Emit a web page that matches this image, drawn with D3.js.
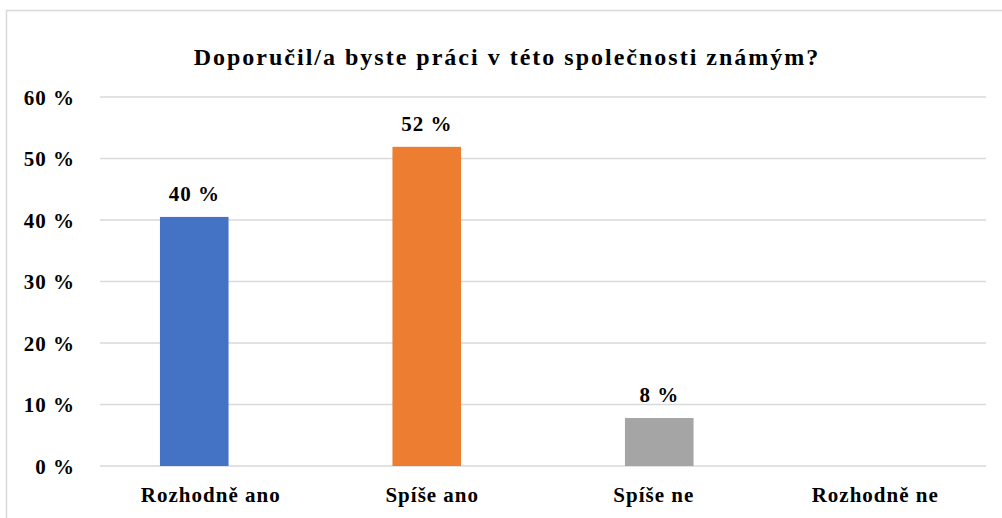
<!DOCTYPE html>
<html>
<head>
<meta charset="utf-8">
<script src="https://cdn.jsdelivr.net/npm/d3@7"></script>
<style>
  body { margin: 0; background: #fff; }
  text { font-family: "Liberation Serif", "Times New Roman", serif; font-weight: bold; fill: #000; }
</style>
</head>
<body>
<svg id="stage" width="1002" height="518"></svg>
<script>
var svg = d3.select("#stage");

// data
var title = "Doporučil/a byste práci v této společnosti známým?";
var categories = ["Rozhodně ano", "Spíše ano", "Spíše ne", "Rozhodně ne"];
var values = [40.5, 51.9, 7.8, 0];
var valueLabels = ["40 %", "52 %", "8 %", ""];
var colors = ["#4472c4", "#ed7d31", "#a5a5a5", "#ffc000"];
var yTicks = [0, 10, 20, 30, 40, 50, 60];

// chart frame
svg.append("rect")
  .attr("x", 6.5).attr("y", 10.5)
  .attr("width", 1010).attr("height", 520)
  .attr("fill", "none")
  .attr("stroke", "#d9d9d9")
  .attr("stroke-width", 1.5);

var plotLeft = 100, plotRight = 986, plotTop = 97, plotBottom = 466;

var y = d3.scaleLinear().domain([0, 60]).range([plotBottom, plotTop]);

// category label positions
var xLabels = d3.scaleBand().domain(categories).range([plotLeft, plotRight]);
// bars sit a bit wider than the label bands in the original
var xBars = d3.scaleBand().domain(categories).range([78, 1008]).paddingInner(0.705).paddingOuter(0.3525);

// title
svg.append("text")
  .attr("x", 507).attr("y", 65)
  .attr("text-anchor", "middle")
  .style("font-size", "24px")
  .style("letter-spacing", "2px")
  .text(title);

// gridlines
svg.append("g")
  .selectAll("line")
  .data(yTicks)
  .enter()
  .append("line")
    .attr("x1", plotLeft).attr("x2", plotRight)
    .attr("y1", function(d){ return y(d); })
    .attr("y2", function(d){ return y(d); })
    .attr("stroke", "#d9d9d9")
    .attr("stroke-width", 1.5);

// y axis
var yAxis = d3.axisLeft(y)
  .tickValues(yTicks)
  .tickSize(0)
  .tickPadding(0)
  .tickFormat(function(d){ return d + " %"; });

var yg = svg.append("g")
  .attr("transform", "translate(75,0)")
  .call(yAxis);
yg.select(".domain").remove();
yg.selectAll("text")
  .style("font-size", "21px")
  .style("font-family", "Liberation Serif, serif")
  .style("letter-spacing", "1px")
  .attr("dy", "0.34em");

// bars
svg.append("g")
  .selectAll("rect")
  .data(values)
  .enter()
  .append("rect")
    .attr("x", function(d, i){ return xBars(categories[i]); })
    .attr("width", xBars.bandwidth())
    .attr("y", function(d){ return y(d); })
    .attr("height", function(d){ return plotBottom - y(d); })
    .attr("fill", function(d, i){ return colors[i]; });

// value labels
svg.append("g")
  .selectAll("text")
  .data(values)
  .enter()
  .append("text")
    .attr("x", function(d, i){ return xBars(categories[i]) + xBars.bandwidth() / 2; })
    .attr("y", function(d){ return y(d) - 16; })
    .attr("text-anchor", "middle")
    .style("font-size", "21px")
    .style("letter-spacing", "1px")
    .text(function(d, i){ return valueLabels[i]; });

// x axis
var xAxis = d3.axisBottom(xLabels).tickSize(0).tickPadding(0);
var xg = svg.append("g")
  .attr("transform", "translate(0," + plotBottom + ")")
  .call(xAxis);
xg.select(".domain").remove();
xg.selectAll("text")
  .style("font-size", "21px")
  .style("font-family", "Liberation Serif, serif")
  .style("letter-spacing", "1px")
  .attr("y", 36)
  .attr("dy", 0);
</script>
</body>
</html>
